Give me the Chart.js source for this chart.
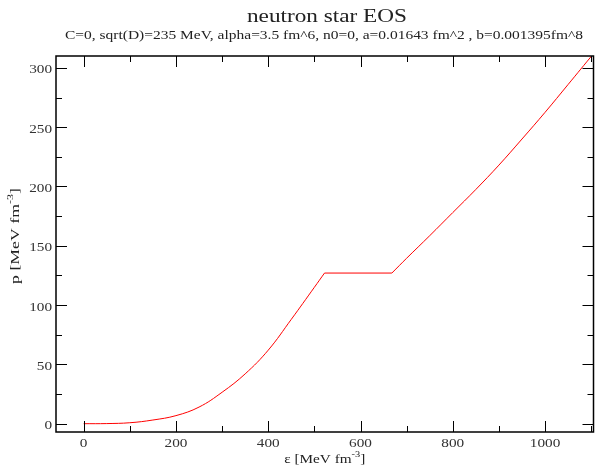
<!DOCTYPE html>
<html>
<head>
<meta charset="utf-8">
<script src="https://cdn.jsdelivr.net/npm/chart.js@4"></script>
<style>
html,body{margin:0;padding:0;background:#fff;}
#wrap{width:595px;height:470px;}
</style>
</head>
<body>
<div id="wrap"><canvas id="c" width="595" height="470"></canvas></div>
<script>
// Data
const energyDensity = [0, 50, 100, 150, 200, 250, 300, 350, 400, 450, 500, 522, 668, 700, 750, 800, 850, 900, 950, 1000, 1050, 1105];
const pressure      = [0, 0.1, 0.8, 3.1, 6.8, 14.0, 26.5, 42.0, 62.0, 88.0, 115.0, 127, 127, 139.5, 158.5, 178, 197.5, 218, 240, 262.5, 286, 312];
const xTickLabels = [0, 200, 400, 600, 800, 1000];
const xMinorTicks = [100, 300, 500, 700, 900, 1100];
const yTickLabels = [0, 50, 100, 150, 200, 250, 300];
const yMinorTicks = [25, 75, 125, 175, 225, 275];
const titleText = 'neutron star EOS';
const subtitleText = 'C=0, sqrt(D)=235 MeV, alpha=3.5 fm^6, n0=0, a=0.01643 fm^2 , b=0.001395fm^8';
const xLabelParts = ['ε [MeV fm', '-3', ']'];
const yLabelParts = ['p [MeV fm', '-3', ']'];

// split the curve where the phase-transition plateau begins and ends
const plateauStart = energyDensity.indexOf(522);
const plateauEnd = energyDensity.indexOf(668);
const pts = energyDensity.map((e, i) => ({x: e, y: pressure[i]}));
const seg1 = pts.slice(0, plateauStart + 1);
const seg2 = pts.slice(plateauStart, plateauEnd + 1);
const seg3 = pts.slice(plateauEnd);

const serif = "'Liberation Serif', 'DejaVu Serif', serif";
const SX = 1.22; // horizontal stretch of the reference's lettering

function stretchedText(ctx, text, x, y, align, sx) {
  sx = sx || SX;
  const w = ctx.measureText(text).width * sx;
  let left = x;
  if (align === 'center') left = x - w / 2;
  else if (align === 'right') left = x - w;
  ctx.save();
  ctx.translate(left, y);
  ctx.scale(sx, 1);
  ctx.textAlign = 'left';
  ctx.fillText(text, 0, 0);
  ctx.restore();
  return w;
}
function fitText(ctx, text, cx, y, targetW) {
  const sx = targetW / ctx.measureText(text).width;
  stretchedText(ctx, text, cx, y, 'center', sx);
}

const framePlugin = {
  id: 'frame',
  afterDraw(chart) {
    const ctx = chart.ctx;
    const a = chart.chartArea;
    const xs = chart.scales.x, ys = chart.scales.y;
    ctx.save();
    ctx.strokeStyle = '#000';
    ctx.lineWidth = 1;
    const tick = (x1, y1, x2, y2) => { ctx.beginPath(); ctx.moveTo(x1, y1); ctx.lineTo(x2, y2); ctx.stroke(); };
    const MAJ = 11, MIN = 6;
    xTickLabels.forEach(v => { const px = Math.round(xs.getPixelForValue(v)) + 0.5; tick(px, a.bottom, px, a.bottom - MAJ); tick(px, a.top, px, a.top + MAJ); });
    xMinorTicks.forEach(v => { const px = Math.round(xs.getPixelForValue(v)) + 0.5; if (px > a.left && px < a.right) { tick(px, a.bottom, px, a.bottom - MIN); tick(px, a.top, px, a.top + MIN); } });
    yTickLabels.forEach(v => { const py = Math.round(ys.getPixelForValue(v)) + 0.5; tick(a.left, py, a.left + MAJ, py); tick(a.right, py, a.right - MAJ, py); });
    yMinorTicks.forEach(v => { const py = Math.round(ys.getPixelForValue(v)) + 0.5; tick(a.left, py, a.left + MIN, py); tick(a.right, py, a.right - MIN, py); });
    ctx.lineWidth = 1.5;
    ctx.strokeRect(a.left, a.top, a.right - a.left, a.bottom - a.top);

    ctx.fillStyle = '#333';
    ctx.textBaseline = 'alphabetic';
    // tick labels
    ctx.font = '12.5px ' + serif;
    xTickLabels.forEach(v => stretchedText(ctx, String(v), xs.getPixelForValue(v), 447, 'center'));
    yTickLabels.forEach(v => stretchedText(ctx, String(v), 52, ys.getPixelForValue(v) + 5.5, 'right'));

    // titles
    ctx.fillStyle = '#222';
    ctx.font = '18px ' + serif;
    fitText(ctx, titleText, 327, 22, 160);
    ctx.font = '12px ' + serif;
    fitText(ctx, subtitleText, 324, 39, 518);

    // axis labels with superscripts
    const drawLabel = (parts, cx, cy, rot, sx) => {
      ctx.save();
      ctx.translate(cx, cy);
      ctx.rotate(rot);
      ctx.font = '12.5px ' + serif;
      const w1 = ctx.measureText(parts[0]).width * sx;
      const w3 = ctx.measureText(parts[2]).width * sx;
      ctx.font = '8.5px ' + serif;
      const w2 = ctx.measureText(parts[1]).width * sx;
      let x = -(w1 + w2 + w3) / 2;
      ctx.font = '12.5px ' + serif;
      stretchedText(ctx, parts[0], x, 4, 'left', sx); x += w1;
      ctx.font = '8.5px ' + serif;
      stretchedText(ctx, parts[1], x, -2, 'left', sx); x += w2;
      ctx.font = '12.5px ' + serif;
      stretchedText(ctx, parts[2], x, 4, 'left', sx);
      ctx.restore();
    };
    drawLabel(xLabelParts, (a.left + a.right) / 2, 459, 0, SX);
    drawLabel(yLabelParts, 15, 236, -Math.PI / 2, 1.42);
    ctx.restore();
  }
};

const lineStyle = { showLine: true, borderColor: '#ff0000', borderWidth: 1, pointRadius: 0, fill: false };

new Chart(document.getElementById('c'), {
  type: 'scatter',
  data: {
    datasets: [
      Object.assign({ data: seg1, tension: 0.4 }, lineStyle),
      Object.assign({ data: seg2, tension: 0 }, lineStyle),
      Object.assign({ data: seg3, tension: 0.4 }, lineStyle)
    ]
  },
  options: {
    responsive: false,
    animation: false,
    devicePixelRatio: 1,
    layout: { padding: { top: 56, right: 1.5, left: 0, bottom: 0 } },
    plugins: { legend: { display: false }, tooltip: { enabled: false }, title: { display: false } },
    scales: {
      x: {
        type: 'linear', min: -60, max: 1105,
        afterBuildTicks: s => { s.ticks = xTickLabels.map(v => ({value: v})); },
        afterFit: s => { s.height = 38; },
        grid: { display: false, drawTicks: false },
        border: { display: false },
        ticks: { display: false }
      },
      y: {
        type: 'linear', min: -7, max: 310,
        afterBuildTicks: s => { s.ticks = yTickLabels.map(v => ({value: v})); },
        afterFit: s => { s.width = 56; },
        grid: { display: false, drawTicks: false },
        border: { display: false },
        ticks: { display: false }
      }
    }
  },
  plugins: [framePlugin]
});
</script>
</body>
</html>
